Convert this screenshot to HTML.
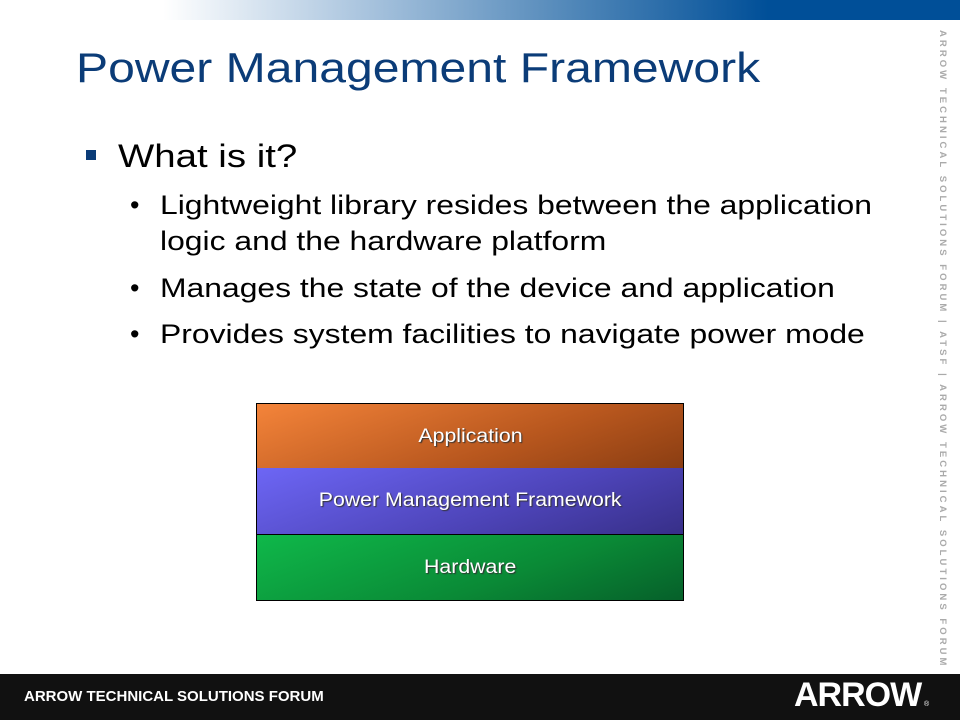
<!DOCTYPE html>
<html><head><meta charset="utf-8"><style>
html,body{margin:0;width:960px;height:720px;overflow:hidden}
body{position:relative;background:#fff;font-family:"Liberation Sans",Arial,sans-serif}
.top{position:absolute;left:0;top:0;width:960px;height:20px;background:linear-gradient(90deg,#fff 0%,#fff 17%,#a9c4de 38%,#4f86b8 60%,#004f98 80%,#004f98 100%)}
.title{position:absolute;left:76px;top:44px;font-size:42px;color:#0b3c78;transform:scaleX(1.145);transform-origin:left;white-space:nowrap}
.t{position:absolute;color:#000;white-space:nowrap;transform-origin:left}
.l1{font-size:32px;left:118px;top:138px;transform:scaleX(1.2)}
.sq{position:absolute;left:86px;top:150px;width:10px;height:10px;background:#0b3c78}
.l2{font-size:27px;left:160px;transform:scaleX(1.18)}
.dot{position:absolute;left:130px;font-size:27px}
.vert{position:absolute;left:937px;top:30px;height:640px;overflow:hidden;writing-mode:vertical-rl;font-size:9.5px;color:#aaa;letter-spacing:3.05px;font-weight:bold;white-space:nowrap}
.box{position:absolute;left:256px;width:426px;border:1px solid #000;color:#fff;font-size:19px;text-align:center;text-shadow:1px 1px 1px #333}
.box span{display:inline-block;transform:scaleX(1.12)}
.foot{position:absolute;left:0;top:674px;width:960px;height:46px;background:#111}
.ft{position:absolute;left:24px;top:688px;color:#fff;font-weight:bold;font-size:15px}
.logo{position:absolute;left:794px;top:676px;color:#fff;font-weight:bold;font-size:34px;letter-spacing:-1px}
</style></head><body>
<div class="top"></div>
<div class="title">Power Management Framework</div>
<div class="sq"></div>
<div class="t l1">What is it?</div>
<div class="t dot" style="top:190px">•</div>
<div class="t l2" style="top:190px">Lightweight library resides between the application</div>
<div class="t l2" style="top:226px">logic and the hardware platform</div>
<div class="t dot" style="top:273px">•</div>
<div class="t l2" style="top:273px">Manages the state of the device and application</div>
<div class="t dot" style="top:319px">•</div>
<div class="t l2" style="top:319px">Provides system facilities to navigate power mode</div>
<div class="vert">ARROW TECHNICAL SOLUTIONS FORUM | ATSF | ARROW TECHNICAL SOLUTIONS FORUM</div>
<div class="box" style="top:403px;height:65px;line-height:65px;background:linear-gradient(160deg,#f4843a,#b8571e 60%,#8a3d12)"><span>Application</span></div>
<div class="box" style="top:468px;height:66px;line-height:66px;border-top:none;background:linear-gradient(160deg,#6d66f5,#4d44b8 60%,#372f88)"><span>Power Management Framework</span></div>
<div class="box" style="top:534px;height:65px;line-height:65px;background:linear-gradient(160deg,#0fb84a,#0a8a36 60%,#06602a)"><span>Hardware</span></div>
<div class="foot"></div>
<div class="ft">ARROW TECHNICAL SOLUTIONS FORUM</div>
<div class="logo">ARROW</div>
<div style="position:absolute;left:924px;top:701px;color:#fff;font-size:7px">®</div>
</body></html>
